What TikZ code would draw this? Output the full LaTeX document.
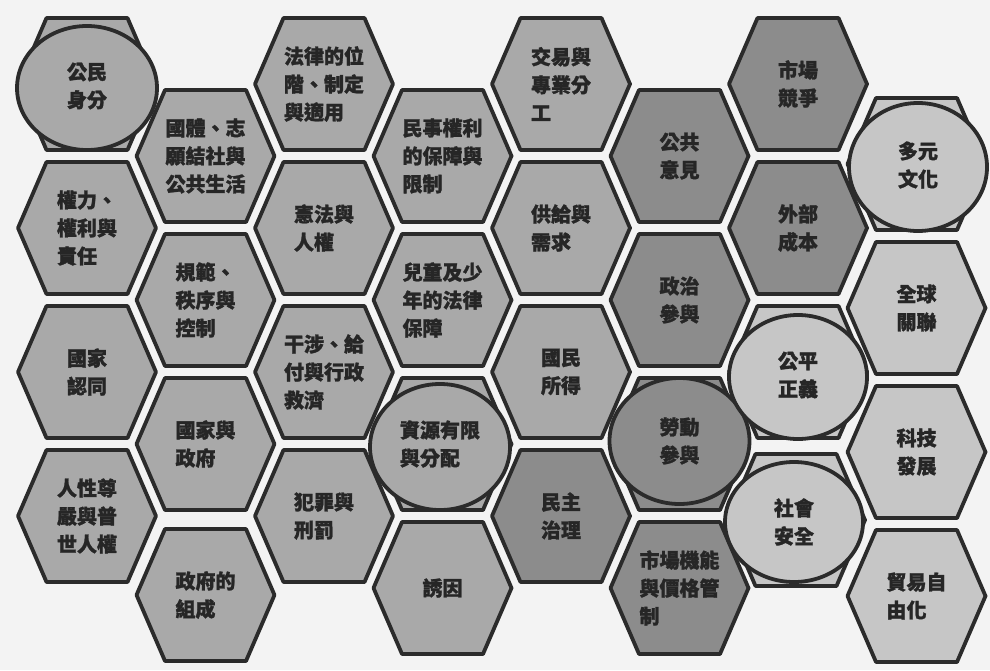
\documentclass[tikz,border=0pt]{standalone}
\usepackage{fontspec}
\newfontfamily\cjk[BoldFeatures={FakeBold=1.3}]{Noto Sans CJK TC}
\usepackage{xcolor}
\definecolor{paper}{HTML}{F3F3F3}
\definecolor{edge}{HTML}{2B2B2B}
\definecolor{cellmid}{HTML}{A9A9A9}
\definecolor{celldark}{HTML}{8C8C8C}
\definecolor{celllight}{HTML}{C6C6C6}
\definecolor{ink}{HTML}{262626}
\usepackage{tikz}

\begin{document}
\begin{tikzpicture}[x=1pt,y=-1pt,
    honey/.pic={\path[pic actions] (-69,0)--(-40.5,-66)--(40.5,-66)--(69,0)--(40.5,66)--(-40.5,66)--cycle;},
    hexmid/.style={draw=edge,line width=3.8pt,line join=round,fill=cellmid},
    hexdark/.style={hexmid,fill=celldark},
    hexlight/.style={hexmid,fill=celllight},
    ring/.style={draw=edge,line width=3.8pt},
    topic/.style={font=\cjk\bfseries\fontsize{20}{28}\selectfont,text=ink,
      align=left,inner sep=0pt}]
    \fill[paper] (0,0) rectangle (990,670);
    \useasboundingbox (0,0) rectangle (990,670);
    % column 1
    \pic[hexmid] at (87,84) {honey};
    \draw[ring,fill=cellmid] (87,88) ellipse [x radius=70,y radius=62];
    \node[topic] (citizen) at (87,86) {公民\\身分};
    \pic[hexmid] at (87,228) {honey};
    \node[topic] (power) at (87,228) {權力、\\權利與\\責任};
    \pic[hexmid] at (87,372) {honey};
    \node[topic] (identity) at (87,372) {國家\\認同};
    \pic[hexmid] at (87,516) {honey};
    \node[topic] (dignity) at (87,516) {人性尊\\嚴與普\\世人權};
    % column 2
    \pic[hexmid] at (205.5,156) {honey};
    \node[topic] (assoc) at (205.5,156) {國體、志\\願結社與\\公共生活};
    \pic[hexmid] at (205.5,300) {honey};
    \node[topic] (norms) at (205.5,300) {規範、\\秩序與\\控制};
    \pic[hexmid] at (205.5,444) {honey};
    \node[topic] (state) at (205.5,444) {國家與\\政府};
    \pic[hexmid] at (205.5,595) {honey};
    \node[topic] (govform) at (205.5,595) {政府的\\組成};
    % column 3
    \pic[hexmid] at (324,84) {honey};
    \node[topic] (lawrank) at (324,84) {法律的位\\階、制定\\與適用};
    \pic[hexmid] at (324,228) {honey};
    \node[topic] (constit) at (324,228) {憲法與\\人權};
    \pic[hexmid] at (324,372) {honey};
    \node[topic] (admin) at (324,372) {干涉、給\\付與行政\\救濟};
    \pic[hexmid] at (324,516) {honey};
    \node[topic] (crime) at (324,516) {犯罪與\\刑罰};
    % column 4
    \pic[hexmid] at (442.5,156) {honey};
    \node[topic] (civil) at (442.5,156) {民事權利\\的保障與\\限制};
    \pic[hexmid] at (442.5,300) {honey};
    \node[topic] (youth) at (442.5,300) {兒童及少\\年的法律\\保障};
    \pic[hexmid] at (442.5,444) {honey};
    \draw[ring,fill=cellmid] (440,447) ellipse [x radius=70,y radius=63];
    \node[topic] (scarcity) at (440,444) {資源有限\\與分配};
    \pic[hexmid] at (442.5,588) {honey};
    \node[topic] (incentive) at (442.5,588) {誘因};
    % column 5
    \pic[hexmid] at (561,84) {honey};
    \node[topic] (trade) at (561,84) {交易與\\專業分\\工};
    \pic[hexmid] at (561,228) {honey};
    \node[topic] (supply) at (561,228) {供給與\\需求};
    \pic[hexmid] at (561,372) {honey};
    \node[topic] (income) at (561,372) {國民\\所得};
    \pic[hexdark] at (561,516) {honey};
    \node[topic] (democracy) at (561,516) {民主\\治理};
    % column 6
    \pic[hexdark] at (679.5,156) {honey};
    \node[topic] (opinion) at (679.5,156) {公共\\意見};
    \pic[hexdark] at (679.5,300) {honey};
    \node[topic] (politics) at (679.5,300) {政治\\參與};
    \pic[hexdark] at (679.5,444) {honey};
    \draw[ring,fill=celldark] (679.5,441) ellipse [x radius=70,y radius=63];
    \node[topic] (labour) at (679.5,441) {勞動\\參與};
    \pic[hexdark] at (679.5,588) {honey};
    \node[topic] (pricing) at (679.5,588) {市場機能\\與價格管\\制};
    % column 7
    \pic[hexdark] at (798,84) {honey};
    \node[topic] (competition) at (798,84) {市場\\競爭};
    \pic[hexdark] at (798,228) {honey};
    \node[topic] (externality) at (798,228) {外部\\成本};
    \pic[hexlight] at (798,372) {honey};
    \draw[ring,fill=celllight] (798,377) ellipse [x radius=69,y radius=62];
    \node[topic] (justice) at (798,375) {公平\\正義};
    \pic[hexlight] at (796,520) {honey};
    \draw[ring,fill=celllight] (794,522) ellipse [x radius=69,y radius=60];
    \node[topic] (security) at (794,522) {社會\\安全};
    % column 8
    \pic[hexlight] at (916.5,164) {honey};
    \draw[ring,fill=celllight] (918,167) ellipse [x radius=69,y radius=64];
    \node[topic] (culture) at (918,165) {多元\\文化};
    \pic[hexlight] at (916.5,308) {honey};
    \node[topic] (global) at (916.5,308) {全球\\關聯};
    \pic[hexlight] at (916.5,452) {honey};
    \node[topic] (tech) at (916.5,452) {科技\\發展};
    \pic[hexlight] at (916.5,596) {honey};
    \node[topic] (freetrade) at (916.5,596) {貿易自\\由化};
  \end{tikzpicture}
\end{document}
